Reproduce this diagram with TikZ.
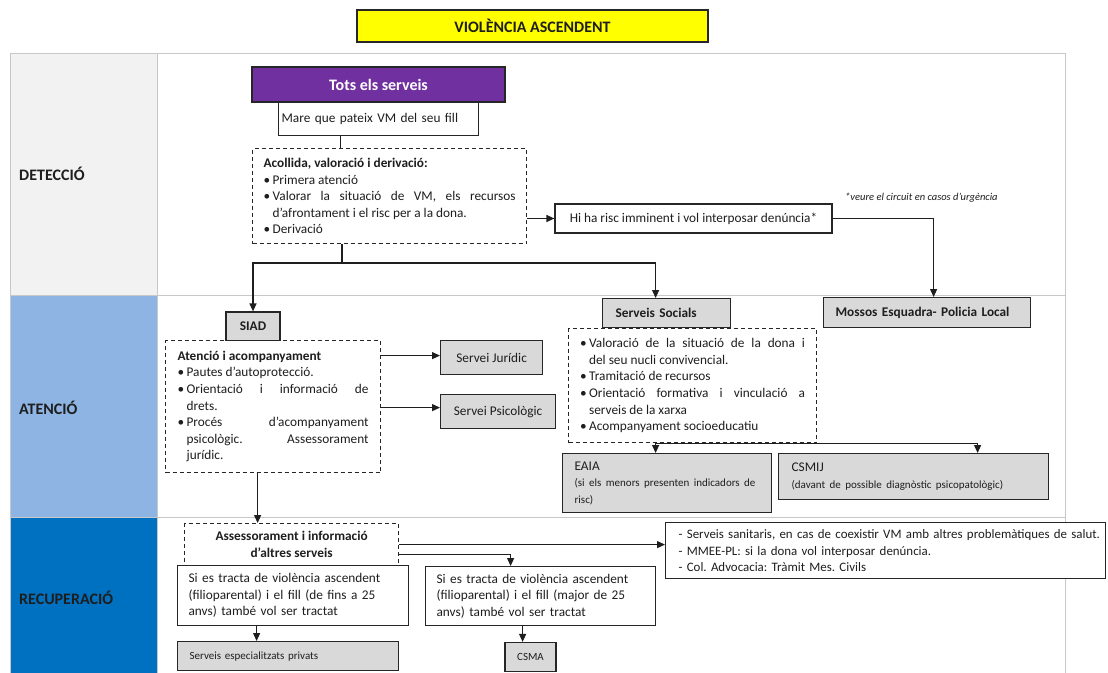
\documentclass[tikz,border=0pt]{standalone}
\usepackage{fontspec}
\setmainfont{Carlito}
\usetikzlibrary{arrows.meta}

\definecolor{ink}{HTML}{1E1E1E}
\definecolor{edge}{HTML}{262626}
\definecolor{gridgrey}{HTML}{C8C8C8}
\definecolor{boxgrey}{HTML}{D9D9D9}
\definecolor{titleyellow}{HTML}{FFFF00}
\definecolor{purplehead}{HTML}{7030A0}
\definecolor{detfill}{HTML}{F2F2F2}
\definecolor{atefill}{HTML}{8DB4E2}
\definecolor{recfill}{HTML}{0070C0}

\newcommand{\txtbody}{\fontsize{13.3}{16.6}\selectfont}
\newcommand{\txtinfo}{\fontsize{12.9}{16.6}\selectfont}
\newcommand{\txtsmall}{\fontsize{11}{14}\selectfont}
\newcommand{\txtlabel}{\fontsize{16}{19}\selectfont\bfseries}
\newcommand{\txtnote}{\fontsize{10.5}{12}\selectfont\itshape}
% bullet item with hanging indent, closed as its own paragraph
\newcommand{\bul}[1]{\par\hangindent=9pt\hangafter=1\noindent\hbox to 9pt{\textbullet\hfil}#1\par}
% justified block of a given width
\newcommand{\jblock}[2]{\parbox{#1}{\parindent=0pt\txtbody #2}}

\setlength{\parindent}{0pt}
\frenchspacing

\begin{document}
\begin{tikzpicture}[x=1pt,y=-1pt,
  font=\txtbody, text=ink,
  box/.style={draw=edge, line width=1.2pt, fill=white, inner sep=0pt},
  gbox/.style={box, fill=boxgrey},
  dbox/.style={box, dash pattern=on 4pt off 3pt},
  conn/.style={draw=ink, line width=1.2pt},
  arr/.style={conn, -{Triangle[length=8pt,width=7pt]}},
  gridline/.style={draw=gridgrey, line width=1pt},
  lbl/.style={anchor=west, font=\txtlabel, inner sep=0pt}]

\useasboundingbox (0,0) rectangle (1108,672);
\fill[white] (0,0) rectangle (1108,672);

% title
\node[box, fill=titleyellow, line width=1.5pt, minimum width=351, minimum height=32,
      font=\txtlabel] (title) at (532.5,26) {VIOLÈNCIA ASCENDENT};

% table with phase column
\fill[detfill] (10,53) rectangle (157,295);
\fill[atefill] (10,295) rectangle (157,517);
\fill[recfill] (10,517) rectangle (157,680);
\draw[gridline] (10,680) -- (10,53) -- (1065,53) -- (1065,680);
\draw[gridline] (157,53) -- (157,680);
\draw[gridline] (10,295) -- (1065,295);
\draw[gridline] (10,517) -- (1065,517);

\node[lbl] (ldet) at (19,174) {DETECCIÓ};
\node[lbl] (late) at (19,408) {ATENCIÓ};
\node[lbl] (lrec) at (19,598) {RECUPERACIÓ};

% detection
\node[box, fill=purplehead, minimum width=253, minimum height=35,
      text=white, font=\txtlabel] (tots) at (378.5,84.5) {Tots els serveis};
\node[box, anchor=north west, minimum height=33, text width=194, inner xsep=3,
      align=left] (mare) at (278,102) {Mare que pateix VM del seu fill};

\node[dbox, anchor=north west, minimum height=95, inner xsep=11] (acol) at (252,148) {%
  \jblock{252pt}{%
  \textbf{Acollida, valoració i derivació:}
  \bul{Primera atenció}
  \bul{Valorar la situació de VM, els recursos\linebreak d’afrontament i el risc per a la dona.}
  \bul{Derivació}}};

\node[box, minimum width=277, minimum height=29] (risc) at (693.5,218.5)
  {Hi ha risc imminent i vol interposar denúncia*};
\node[font=\txtnote, anchor=west, inner sep=0pt] (nota) at (845,198)
  {*veure el circuit en casos d’urgència};

% attention
\node[gbox, anchor=north west, minimum height=30, text width=183, inner xsep=12,
      align=left, font=\txtbody\bfseries] (mossos) at (823,297) {Mossos Esquadra- Policia Local};

\node[gbox, minimum width=54, minimum height=29, font=\txtbody\bfseries] (siad) at (253,326.5) {SIAD};
\node[dbox, anchor=north west, minimum height=132, inner xsep=12] (atenc) at (165,340) {%
  \jblock{191pt}{%
  \textbf{Atenció i acompanyament}
  \bul{Pautes d’autoprotecció.}
  \bul{Orientació i informació de\linebreak drets.}
  \bul{Procés d’acompanyament\linebreak psicològic. Assessorament\linebreak jurídic.}}};

\node[gbox, anchor=north west, minimum width=102, minimum height=34] (juridic) at (440,340) {Servei Jurídic};
\node[gbox, anchor=north west, minimum width=115, minimum height=34] (psico) at (440,394) {Servei Psicològic};

\node[gbox, anchor=north west, minimum height=29, text width=102, inner xsep=13,
      align=left, font=\txtbody\bfseries] (ssoc) at (602,298) {Serveis Socials};
\node[dbox, anchor=north west, minimum height=114, inner xsep=11.5] (ssd) at (568,328) {%
  \jblock{225pt}{%
  \bul{Valoració de la situació de la dona i\linebreak del seu nucli convivencial.}
  \bul{Tramitació de recursos}
  \bul{Orientació formativa i vinculació a\linebreak serveis de la xarxa}
  \bul{Acompanyament socioeducatiu}}};

\node[gbox, anchor=north west, minimum height=59, text width=185, inner xsep=12,
      align=left] (eaia) at (562,453)
  {EAIA\\{\txtsmall\mbox{(si els menors presenten indicadors de}}\\{\txtsmall risc)}};
\node[gbox, anchor=north west, minimum height=46, text width=244, inner xsep=13,
      align=left] (csmij) at (778,453)
  {CSMIJ\\{\txtsmall\mbox{(davant de possible diagnòstic psicopatològic)}}};

% recovery
\node[dbox, anchor=north west, minimum width=214, minimum height=42, align=center,
      font=\txtbody\bfseries] (assess) at (184,523) {Assessorament i informació\\d’altres serveis};

\node[box, anchor=north west, minimum height=60, text width=209, inner xsep=11,
      align=left] (si1) at (177,565)
  {\mbox{Si es tracta de violència ascendent}\\\mbox{(filioparental) i el fill (de fins a 25}\\\mbox{anvs) també vol ser tractat}};
\node[box, anchor=north west, minimum height=59, text width=208, inner xsep=11,
      align=left] (si2) at (425,566)
  {\mbox{Si es tracta de violència ascendent}\\\mbox{(filioparental) i el fill (major de 25}\\\mbox{anvs) també vol ser tractat}};

\node[gbox, anchor=north west, minimum height=29, text width=197, inner xsep=12,
      align=left, font=\txtsmall] (privats) at (177,641) {Serveis especialitzats privats};
\node[gbox, minimum width=51, minimum height=29, font=\txtsmall] (csma) at (530.5,657) {CSMA};

\node[box, anchor=north west, minimum height=56, text width=414, inner xsep=13,
      align=left, font=\txtinfo] (info) at (665,522)
  {\mbox{- Serveis sanitaris, en cas de coexistir VM amb altres problemàtiques de salut.}\\
   \mbox{- MMEE-PL: si la dona vol interposar denúncia.}\\
   \mbox{- Col. Advocacia: Tràmit Mes. Civils}};

% connector end points off the anchor centres
\coordinate (fork1) at (342,263);
\coordinate (mareout) at ([xshift=-38pt]mare.south);
\coordinate (siadin) at (siad.north);
\coordinate (ssocin) at ([xshift=-11pt]ssoc.north);
\coordinate (mossin) at ([xshift=6.5pt]mossos.north);
\coordinate (jurin) at ([yshift=2pt]juridic.west);
\coordinate (psiin) at ([yshift=4pt]psico.west);
\coordinate (atenout) at ([xshift=-15.5pt]atenc.south);
\coordinate (eaiain) at ([xshift=-11.5pt]eaia.north);
\coordinate (csmijin) at ([xshift=64pt]csmij.north);
\coordinate (assout) at ([yshift=-10pt]assess.east);
\coordinate (si2in) at ([xshift=-30pt]si2.north);
\coordinate (si1out) at ([xshift=-36.5pt]si1.south);
\coordinate (si2out) at ([xshift=-18pt]si2.south);

% connectors
\draw[conn] (mareout) -- (mareout |- acol.north);
\draw[conn] (acol.south -| fork1) -- (fork1);
\draw[arr] (fork1) -| (siadin);
\draw[arr] (fork1) -| (ssocin);
\draw[arr] (acol.east |- risc.west) -- (risc.west);
\draw[arr] (risc.east) -| (mossin);

\draw[arr] (atenc.east |- jurin) -- (jurin);
\draw[arr] (atenc.east |- psiin) -- (psiin);
\draw[arr] (atenout) -- (atenout |- assess.north);
\draw[arr] (ssd.south east) -| (eaiain);
\draw[arr] (ssd.south east) -| (csmijin);

\draw[arr] (assess.east) -- (assess.east -| info.west);
\draw[arr] (assout) -| (si2in);
\draw[arr] (si1out) -- (si1out |- privats.north);
\draw[arr] (si2out) -- (si2out |- csma.north);

\end{tikzpicture}
\end{document}
